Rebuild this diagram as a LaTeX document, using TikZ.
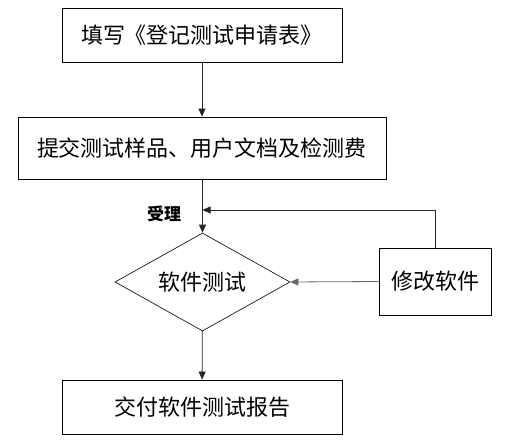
\documentclass[tikz,border=0pt]{standalone}
\usepackage{fontspec}
\newfontfamily\cjk{Noto Sans CJK SC}
\usepackage{tikz}
\usetikzlibrary{
  positioning,
  arrows.meta,
  shapes.geometric
}
\tikzset{
  % Process box
  procbox/.style={
    rectangle,
    draw=black,
    line width=0.8pt,
    inner sep=0pt,
    font=\cjk\fontsize{22}{26}\selectfont
  },
  % Decision diamond
  decision/.style={
    diamond,
    aspect=1.79,
    draw=black,
    line width=0.6pt,
    inner sep=0pt,
    minimum width=175pt,
    minimum height=98pt,
    font=\cjk\fontsize{22}{26}\selectfont
  },
  % Flow arrow
  flow/.style={
    draw=black!85,
    line width=0.8pt,
    -{Triangle[length=8pt,width=7pt]}
  },
  % Edge label
  elabel/.style={
    font=\cjk\bfseries\fontsize{17}{20}\selectfont
  }
}

\begin{document}
\begin{tikzpicture}[x=1pt,y=-1pt]
  \useasboundingbox (0,0) rectangle (512,446);

  \node[procbox, minimum width=280pt, minimum height=54pt] (fill) at (202,35) {填写《登记测试申请表》};
  \node[procbox, minimum width=368pt, minimum height=62pt] (submit) at (202,148) {提交测试样品、用户文档及检测费};
  \node[decision] (test) at (202.5,282) {软件测试};
  \node[procbox, minimum width=112pt, minimum height=67pt] (fix) at (435,281.5) {修改软件};
  \node[procbox, minimum width=280pt, minimum height=54pt] (report) at (202,407) {交付软件测试报告};

  \coordinate (join) at (202.5,210);
  \node[elabel] (accept) at (164,214) {受理};

  \draw[flow] (fill) -- (submit);
  \draw[flow] (submit.south -| test.north) -- (test.north);
  \draw[flow] (fix.north) |- (join);
  \draw[flow, draw=black!60] (fix.west) -- (test.east);
  \draw[flow] (test) -- (report);
\end{tikzpicture}
\end{document}
